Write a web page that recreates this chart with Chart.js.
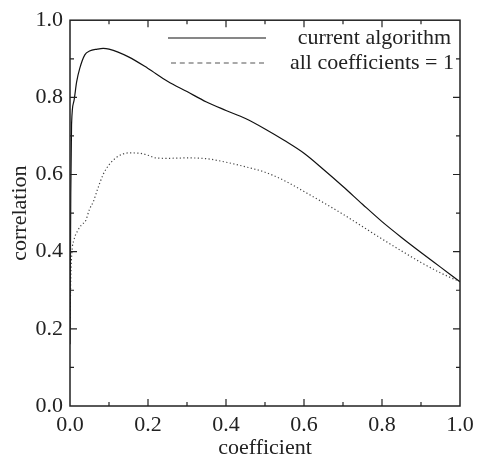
<!DOCTYPE html>
<html>
<head>
<meta charset="utf-8">
<script src="https://cdn.jsdelivr.net/npm/chart.js@4"></script>
<style>
    html, body { margin: 0; padding: 0; background: #fff; }
    #wrap { width: 483px; height: 462px; }
</style>
</head>
<body>
<div id="wrap"><canvas id="corrChart" width="483" height="462"></canvas></div>
<script>
// values
const coefCurrent = [0, 0.002, 0.004, 0.01, 0.017, 0.025, 0.038, 0.05, 0.07, 0.085, 0.1, 0.15, 0.2, 0.25, 0.3, 0.35, 0.4, 0.45, 0.5, 0.55, 0.6, 0.65, 0.7, 0.75, 0.8, 0.85, 0.9, 0.95, 1.0];
const corrCurrent = [0.16, 0.55, 0.73, 0.79, 0.84, 0.875, 0.91, 0.92, 0.925, 0.927, 0.925, 0.905, 0.875, 0.842, 0.815, 0.788, 0.766, 0.745, 0.718, 0.688, 0.655, 0.613, 0.569, 0.523, 0.478, 0.437, 0.398, 0.36, 0.322];

const coefOnes = [0, 0.002, 0.005, 0.01, 0.02, 0.03, 0.04, 0.05, 0.06, 0.07, 0.085, 0.1, 0.12, 0.15, 0.18, 0.2, 0.22, 0.25, 0.3, 0.35, 0.4, 0.45, 0.5, 0.55, 0.6, 0.65, 0.7, 0.75, 0.8, 0.85, 0.9, 0.95, 1.0];
const corrOnes = [0.2, 0.33, 0.4, 0.43, 0.455, 0.47, 0.48, 0.51, 0.53, 0.56, 0.6, 0.625, 0.645, 0.656, 0.655, 0.65, 0.643, 0.642, 0.643, 0.641, 0.632, 0.62, 0.606, 0.584, 0.556, 0.527, 0.497, 0.465, 0.433, 0.402, 0.372, 0.345, 0.322];

const seriesNames = ['current algorithm', 'all coefficients = 1'];
const tickValues = [0, 0.2, 0.4, 0.6, 0.8, 1.0];

const serif = "'Liberation Serif', 'DejaVu Serif', serif";
const ink = '#222';

function toPoints(xs, ys) {
    return xs.map((x, i) => ({x: x, y: ys[i]}));
}

// frame + inward ticks on all four sides, minor every 0.1
const frameTicks = {
    id: 'frameTicks',
    afterDatasetsDraw(chart) {
        const {ctx, chartArea: a, scales} = chart;
        ctx.save();
        ctx.strokeStyle = ink;
        ctx.lineWidth = 1.5;
        ctx.strokeRect(a.left, a.top, a.right - a.left, a.bottom - a.top);
        ctx.lineWidth = 1.2;
        ctx.beginPath();
        for (let i = 1; i < 10; i++) {
            const len = i % 2 === 0 ? 7 : 4;
            const px = scales.x.getPixelForValue(i / 10);
            const py = scales.y.getPixelForValue(i / 10);
            ctx.moveTo(px, a.bottom); ctx.lineTo(px, a.bottom - len);
            ctx.moveTo(px, a.top); ctx.lineTo(px, a.top + len);
            ctx.moveTo(a.left, py); ctx.lineTo(a.left + len, py);
            ctx.moveTo(a.right, py); ctx.lineTo(a.right - len, py);
        }
        ctx.stroke();
        ctx.restore();
    }
};

// legend inside the plot, sample line on the left, label to the right
const insideLegend = {
    id: 'insideLegend',
    afterDraw(chart) {
        const ctx = chart.ctx;
        const rows = [
            {y: 38, x0: 168, x1: 266},
            {y: 63, x0: 171, x1: 267}
        ];
        ctx.save();
        chart.data.datasets.forEach((ds, i) => {
            const r = rows[i];
            ctx.strokeStyle = i === 0 ? '#111' : '#555';
            ctx.lineWidth = 1.1;
            ctx.setLineDash(i === 0 ? [] : [5, 3.8]);
            ctx.beginPath();
            ctx.moveTo(r.x0, r.y);
            ctx.lineTo(r.x1, r.y);
            ctx.stroke();
            ctx.setLineDash([]);
            ctx.fillStyle = ink;
            ctx.font = '22px ' + serif;
            ctx.textBaseline = 'middle';
            ctx.textAlign = 'right';
            ctx.fillText(ds.label, i === 0 ? 451 : 454, r.y);
        });
        ctx.restore();
    }
};

new Chart(document.getElementById('corrChart'), {
    type: 'line',
    data: {
        datasets: [{
                label: seriesNames[0],
                data: toPoints(coefCurrent, corrCurrent),
                borderColor: '#111',
                borderWidth: 1.2,
                pointRadius: 0,
                cubicInterpolationMode: 'monotone',
                fill: false
            }, {
                label: seriesNames[1],
                data: toPoints(coefOnes, corrOnes),
                borderColor: '#444',
                borderWidth: 1.2,
                borderDash: [1.2, 2.4],
                pointRadius: 0,
                cubicInterpolationMode: 'monotone',
                fill: false
            }]
    },
    options: {
        responsive: false,
        animation: false,
        layout: {padding: {left: 0, top: 15, right: 23, bottom: 0}},
        plugins: {legend: {display: false}, tooltip: {enabled: false}},
        scales: {
            x: {
                type: 'linear',
                min: 0,
                max: 1,
                afterFit: scale => { scale.height = 56; },
                afterBuildTicks: scale => { scale.ticks = tickValues.map(v => ({value: v})); },
                grid: {display: false, drawTicks: false},
                border: {display: false},
                ticks: {
                    padding: 6,
                    color: ink,
                    font: {family: serif, size: 22},
                    maxRotation: 0,
                    callback: v => v.toFixed(1)
                },
                title: {
                    display: true,
                    text: 'coefficient',
                    color: ink,
                    font: {family: serif, size: 22},
                    padding: {top: 0, bottom: 1}
                }
            },
            y: {
                type: 'linear',
                min: 0,
                max: 1,
                afterFit: scale => { scale.width = 70; },
                afterBuildTicks: scale => { scale.ticks = tickValues.map(v => ({value: v})); },
                grid: {display: false, drawTicks: false},
                border: {display: false},
                ticks: {
                    padding: 7,
                    color: ink,
                    font: {family: serif, size: 22},
                    callback: v => v.toFixed(1)
                },
                title: {
                    display: true,
                    text: 'correlation',
                    color: ink,
                    font: {family: serif, size: 22},
                    padding: {top: 7, bottom: 0}
                }
            }
        }
    },
    plugins: [frameTicks, insideLegend]
});
</script>
</body>
</html>
